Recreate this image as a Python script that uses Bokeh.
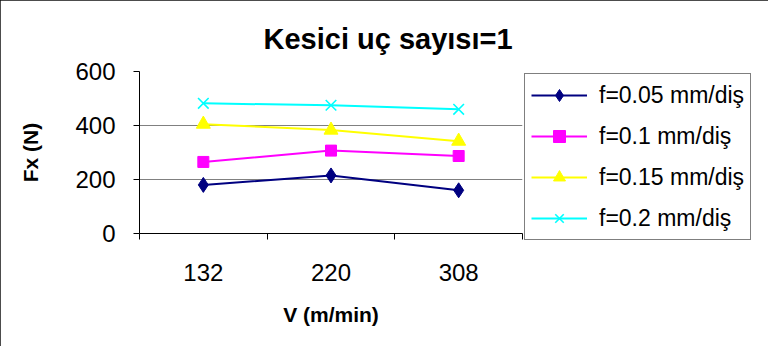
from bokeh.plotting import figure
from bokeh.models import Range1d, FixedTicker, Legend, LegendItem, Title
from bokeh.embed import file_html
from bokeh.resources import INLINE

# ---- data ----
V = ["132", "220", "308"]
f005 = [180, 215, 160]
f01 = [265, 307, 287]
f015 = [405, 383, 342]
f02 = [482, 475, 460]
labels = ["f=0.05 mm/diş", "f=0.1 mm/diş", "f=0.15 mm/diş", "f=0.2 mm/diş"]
y_ticks = [0, 200, 400, 600]

xs = [i + 0.5 for i in range(len(V))]
FONT = "Liberation Sans"

p = figure(frame_width=383, frame_height=162, output_backend="svg", toolbar_location=None,
           x_range=Range1d(0, len(V)), y_range=Range1d(0, 600),
           min_border_left=139, min_border_top=71, min_border_right=230,
           min_border_bottom=113)
p.styles = {"outline": "2px solid #111111", "outline-offset": "-2px"}
p.outline_line_color = None
p.background_fill_color = "white"
p.border_fill_color = "white"

# title
t = Title(text="Kesici uç sayısı=1", align="left", offset=124, standoff=34,
          text_font=FONT, text_font_size="29px", text_font_style="bold",
          text_color="black")
p.add_layout(t, "above")

# x axis
p.xaxis.ticker = FixedTicker(ticks=xs, minor_ticks=list(range(len(V) + 1)))
p.xaxis.major_label_overrides = {x: v for x, v in zip(xs, V)}
p.xaxis.major_tick_line_color = None
p.xaxis.major_tick_out = 0
p.xaxis.major_tick_in = 0
p.xaxis.minor_tick_out = 6
p.xaxis.minor_tick_in = 0
p.xaxis.minor_tick_line_color = "black"
p.xaxis.major_label_standoff = 24
p.xaxis.major_label_text_font = FONT
p.xaxis.major_label_text_font_size = "24px"
p.xaxis.major_label_text_color = "black"
p.xaxis.axis_label = "V (m/min)"
p.xaxis.axis_label_text_font = FONT
p.xaxis.axis_label_text_font_size = "21px"
p.xaxis.axis_label_text_font_style = "bold"
p.xaxis.axis_label_text_color = "black"
p.xaxis.axis_label_standoff = 19
p.xaxis.axis_line_color = "black"

# y axis
p.yaxis.ticker = FixedTicker(ticks=y_ticks, minor_ticks=[])
p.yaxis.major_tick_out = 6
p.yaxis.major_tick_in = 0
p.yaxis.major_tick_line_color = "black"
p.yaxis.major_label_standoff = 18
p.yaxis.major_label_text_font = FONT
p.yaxis.major_label_text_font_size = "24px"
p.yaxis.major_label_text_color = "black"
p.yaxis.axis_label = "Fx (N)"
p.yaxis.axis_label_text_font = FONT
p.yaxis.axis_label_text_font_size = "21px"
p.yaxis.axis_label_text_font_style = "bold"
p.yaxis.axis_label_text_color = "black"
p.yaxis.axis_label_standoff = 30
p.yaxis.axis_line_color = "black"

p.xgrid.grid_line_color = None
p.ygrid.ticker = FixedTicker(ticks=y_ticks)
p.ygrid.grid_line_color = "#808080"
p.ygrid.grid_line_width = 1

series = [
    (f005, "#000080", "diamond", 15, 1),
    (f01, "#FF00FF", "square", 11, 1),
    (f015, "#FFFF00", "triangle", 14, 1),
    (f02, "#00FFFF", "x", 15, 1.6),
]
items = []
for (vals, col, mk, sz, lw), lab in zip(series, labels):
    r1 = p.line(xs, vals, line_color=col, line_width=2)
    r2 = p.scatter(xs, vals, marker=mk, size=sz, fill_color=col, line_color=col,
                   line_width=lw)
    items.append(LegendItem(label=lab, renderers=[r1, r2]))

legend = Legend(items=items, location="top_left", orientation="vertical",
                label_text_font=FONT, label_text_font_size="23px",
                label_text_color="black", glyph_width=56, glyph_height=30,
                label_height=30, label_standoff=12, spacing=11, padding=6,
                border_line_color="black", border_line_width=1,
                background_fill_color="white", background_fill_alpha=1.0,
                margin=2)
p.add_layout(legend, "right")

open("out.html", "w").write(file_html(p, INLINE))
